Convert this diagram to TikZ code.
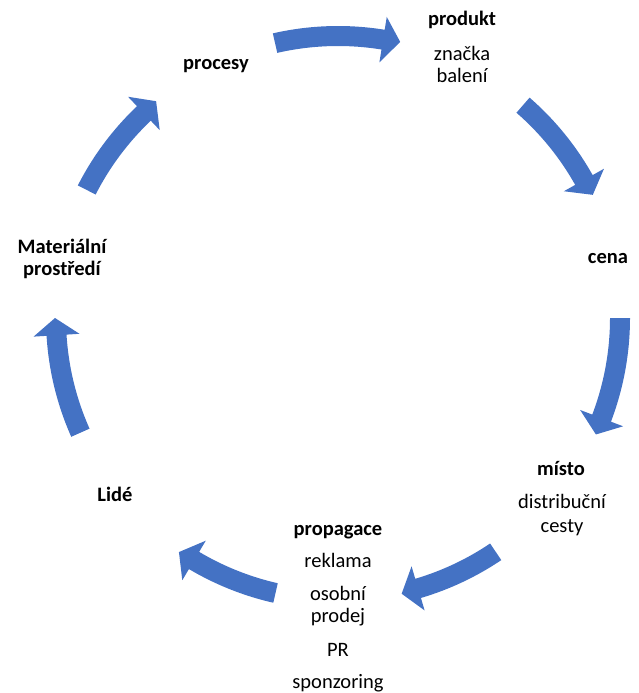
\documentclass[tikz,border=0pt]{standalone}
\usepackage{fontspec}
\setmainfont{Carlito}
\definecolor{arrowblue}{HTML}{4472C4}
\tikzset{
  lbl/.style={inner sep=0pt, anchor=base, font=\fontsize{20.5}{23}\selectfont},
  ttl/.style={lbl, font=\fontsize{20.5}{23}\selectfont\bfseries},
  cyclearrow/.style={fill=arrowblue}
}
\begin{document}
\begin{tikzpicture}[x=1pt,y=-1pt]
\useasboundingbox (0,0) rectangle (638,693);
\coordinate (C) at (338,318);
\begin{scope}[shift={(C)}, yscale=-1]
\foreach \a/\b in {102.9/77.3, 49/25.8, 0/-24.3, -56/-77, -102.8/-124.2, -156/-180, 153/130}{
  \fill[cyclearrow] (\a:292) arc[start angle=\a, end angle={\b+3.5}, radius=292]
     -- ({\b+3.5}:305) -- (\b:283) -- ({\b+3.5}:259) -- ({\b+3.5}:272)
     arc[start angle={\b+3.5}, end angle=\a, radius=272] -- cycle;
}
\end{scope}
\node[ttl] (procesy) at (216,70) {procesy};
\node[ttl] (produkt) at (462,26) {produkt};
\node[lbl] (znacka) at (462,60) {značka};
\node[lbl] (baleni) at (462,82) {balení};
\node[ttl] (cena) at (608,263) {cena};
\node[ttl] (misto) at (561,475) {místo};
\node[lbl] (distr) at (562,508) {distribuční};
\node[lbl] (cesty) at (562,532) {cesty};
\node[ttl] (propagace) at (338,535) {propagace};
\node[lbl] (reklama) at (338,567) {reklama};
\node[lbl] (osobni) at (338,600) {osobní};
\node[lbl] (prodej) at (338,622) {prodej};
\node[lbl] (pr) at (338,656) {PR};
\node[lbl] (sponzoring) at (338,688) {sponzoring};
\node[ttl] (lide) at (115,501) {Lidé};
\node[ttl] (mat1) at (62,253) {Materiální};
\node[ttl] (mat2) at (62,275) {prostředí};
\end{tikzpicture}
\end{document}
